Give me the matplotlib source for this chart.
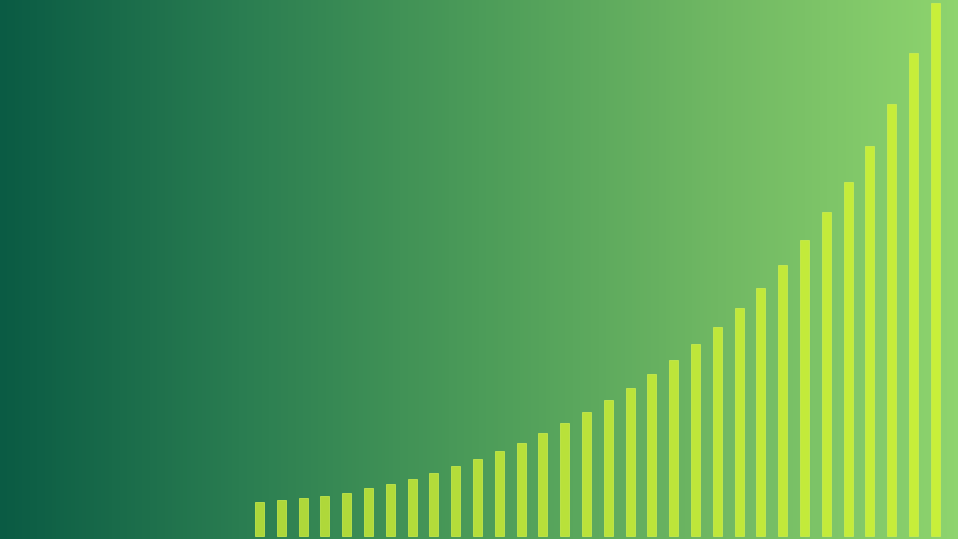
import numpy as np
import matplotlib
matplotlib.use("Agg")
import matplotlib.pyplot as plt
from matplotlib.colors import LinearSegmentedColormap

# bar heights (bottom to top, in picture units)
periods = list(range(32))
heights = [34, 36, 38, 40, 43, 48, 52, 57, 63, 70, 77, 85, 93, 103, 113, 124,
           136, 148, 162, 176, 192, 209, 228, 248, 271, 296, 324, 354, 390, 432, 483, 533]


def make_figure():
    fig = plt.figure(figsize=(9.58, 5.39), dpi=100)
    ax = fig.add_axes([0, 0, 1, 1])
    ax.set_xlim(-11.9, 32.04)
    ax.set_ylim(-3, 536)

    background = LinearSegmentedColormap.from_list(
        "bg", ["#0a5b44", "#2a7d51", "#4c9c59", "#70b863", "#8ed46e"])
    gradient = np.linspace(0, 1, 256).reshape(1, -1)
    ax.imshow(gradient, cmap=background, aspect="auto",
              extent=[-11.9, 32.04, -3, 536], zorder=0)

    bar_colors = LinearSegmentedColormap.from_list("bars", ["#acd63a", "#c8ef3a"])
    colors = [bar_colors(i / (len(periods) - 1)) for i in periods]
    ax.bar(periods, heights, width=0.41, bottom=0, color=colors,
           edgecolor="#d2f04a", linewidth=0.5, zorder=2)

    ax.axis("off")
    fig.savefig("out.png", dpi=100)


if __name__ == "__main__":
    make_figure()
